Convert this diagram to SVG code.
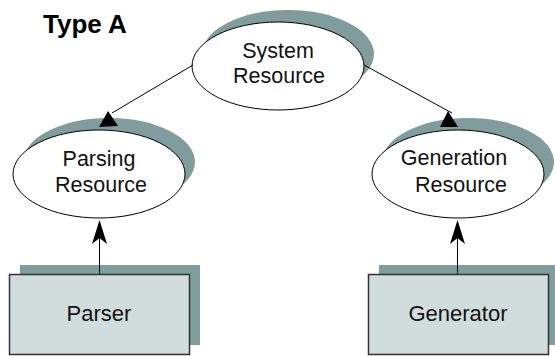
<svg xmlns="http://www.w3.org/2000/svg" width="555" height="356" viewBox="0 0 555 356">
<style>
.sh{fill:#819c9c;stroke:none}
.el{fill:#ffffff;stroke:#000;stroke-width:1}
.bx{fill:#d1dddd;stroke:#333;stroke-width:1.5}
.t{font-family:"Liberation Sans",Arial,sans-serif;font-size:21.5px;fill:#111;text-anchor:middle}
.ln{stroke:#000;stroke-width:1;fill:none}
.ah{fill:#000;stroke:none}
</style>
<rect width="555" height="356" fill="#fff"/>
<text x="43" y="33" style="font-family:'Liberation Sans',Arial,sans-serif;font-size:26px;font-weight:bold;fill:#000">Type A</text>
<g id="system">
<ellipse class="sh" cx="288" cy="54" rx="86" ry="44"/>
<ellipse class="el" cx="278" cy="66" rx="86" ry="44"/>
<text class="t" x="278" y="58">System</text>
<text class="t" x="279" y="83">Resource</text>
</g>
<g id="parsing">
<ellipse class="sh" cx="109" cy="162" rx="86" ry="44"/>
<ellipse class="el" cx="99" cy="174" rx="86" ry="44"/>
<text class="t" x="99" y="166">Parsing</text>
<text class="t" x="101" y="192">Resource</text>
</g>
<g id="generation">
<ellipse class="sh" cx="468" cy="162" rx="86" ry="44"/>
<ellipse class="el" cx="458" cy="174" rx="86" ry="44"/>
<text class="t" x="454" y="165">Generation</text>
<text class="t" x="461" y="192">Resource</text>
</g>
<g id="parser">
<rect class="sh" x="20" y="265" width="180" height="80"/>
<rect class="bx" x="9.5" y="274.5" width="180" height="80"/>
<text class="t" x="99" y="321" style="font-size:22px">Parser</text>
</g>
<g id="generator">
<rect class="sh" x="379" y="265" width="180" height="80"/>
<rect class="bx" x="368.5" y="274.5" width="180" height="80"/>
<text class="t" x="458" y="321" style="font-size:22px">Generator</text>
</g>
<g id="connectors">
<line class="ln" x1="193" y1="65" x2="112" y2="113"/>
<polygon class="ah" points="108,111 99,127 118,126"/>
<line class="ln" x1="364" y1="65" x2="452" y2="113"/>
<polygon class="ah" points="448,111 440,127 458,127"/>
<line class="ln" x1="99.5" y1="274" x2="99.5" y2="236"/>
<polygon class="ah" points="99.5,220 92,244 99.5,238 107,244"/>
<line class="ln" x1="457.5" y1="274" x2="457.5" y2="236"/>
<polygon class="ah" points="457.5,220 450,244 457.5,238 465,244"/>
</g>
</svg>
